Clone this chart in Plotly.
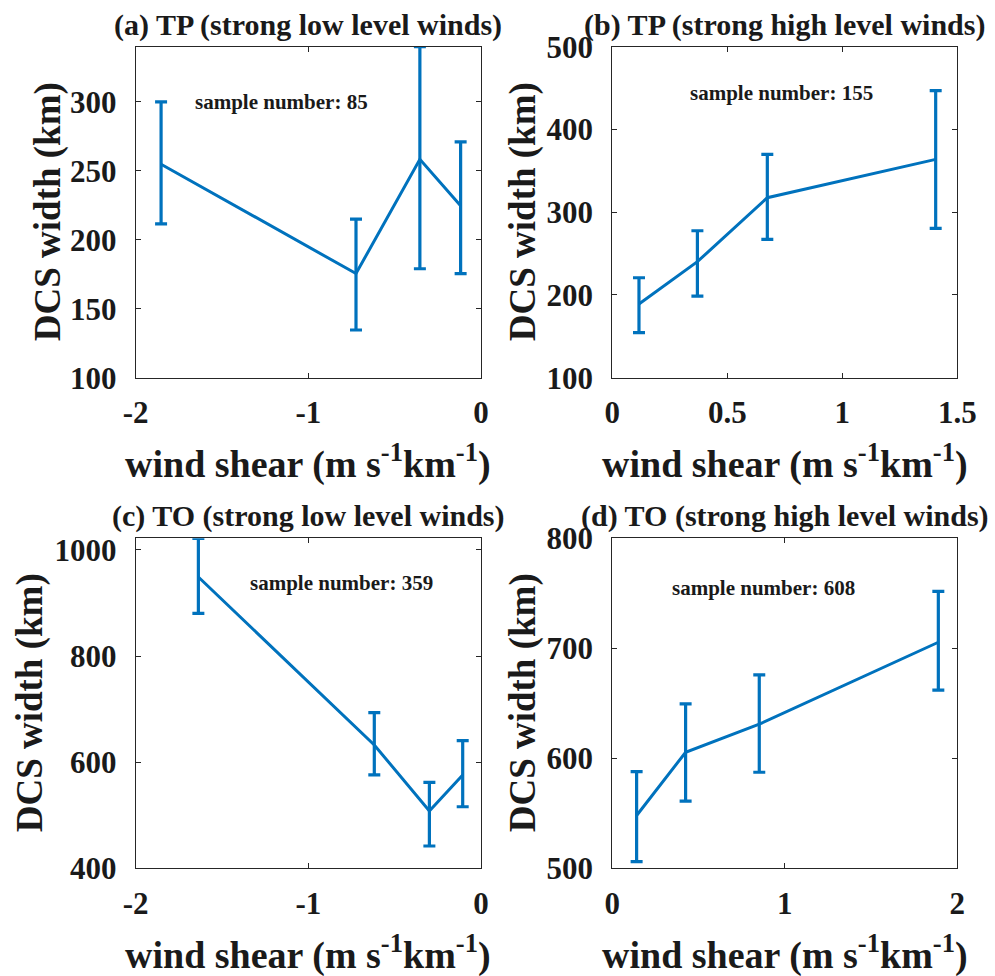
import plotly.graph_objects as go

# Panel (a): TP, strong low level winds
shear_a = [-1.853, -0.724, -0.354, -0.118]
width_a = [254.8, 175.5, 258.4, 224.7]
err_up_a = [45.2, 39.5, 81.6, 46.3]
err_dn_a = [43.3, 40.9, 79.4, 49.2]

# Panel (b): TP, strong high level winds
shear_b = [0.116, 0.370, 0.674, 1.406]
width_b = [189.0, 240.2, 317.5, 363.8]
err_up_b = [31.8, 37.4, 52.4, 83.0]
err_dn_b = [34.6, 41.5, 50.3, 83.3]

# Panel (c): TO, strong low level winds
shear_c = [-1.637, -0.618, -0.299, -0.106]
width_c = [949.0, 632.5, 508.0, 576.0]
err_up_c = [73.0, 60.9, 54.0, 64.6]
err_dn_c = [68.4, 56.5, 66.0, 60.0]

# Panel (d): TO, strong high level winds
shear_d = [0.141, 0.425, 0.852, 1.890]
width_d = [548.0, 605.5, 631.0, 705.5]
err_up_d = [39.9, 43.9, 44.8, 46.3]
err_dn_d = [42.0, 44.5, 43.7, 43.5]

panel_titles = ["(a) TP (strong low level winds)", "(b) TP (strong high level winds)",
                "(c) TO (strong low level winds)", "(d) TO (strong high level winds)"]
sample_labels = ["sample number: 85", "sample number: 155",
                 "sample number: 359", "sample number: 608"]

xticks_low = [-2, -1, 0]
xticks_low_text = ["-2", "-1", "0"]
xticks_b = [0, 0.5, 1, 1.5]
xticks_b_text = ["0", "0.5", "1", "1.5"]
xticks_d = [0, 1, 2]
xticks_d_text = ["0", "1", "2"]
yticks_a = [100, 150, 200, 250, 300]
yticks_b = [100, 200, 300, 400, 500]
yticks_c = [400, 600, 800, 1000]
yticks_d = [500, 600, 700, 800]

W, H = 995, 976
BLUE = "#0072BD"
FONT = "Liberation Serif"
INK = "#1a1a1a"

panels = [
    dict(x=shear_a, y=width_a, up=err_up_a, dn=err_dn_a, xr=[-2, 0], yr=[100, 340],
         xt=xticks_low, xtt=xticks_low_text, yt=yticks_a,
         box=(135.7, 481.0, 46.7, 377.7), note=(-1.668, 300), ytx=48),
    dict(x=shear_b, y=width_b, up=err_up_b, dn=err_dn_b, xr=[0, 1.5], yr=[100, 500],
         xt=xticks_b, xtt=xticks_b_text, yt=yticks_b,
         box=(612.3, 957.3, 46.7, 377.7), note=(0.33, 444), ytx=523),
    dict(x=shear_c, y=width_c, up=err_up_c, dn=err_dn_c, xr=[-2, 0], yr=[400, 1022],
         xt=xticks_low, xtt=xticks_low_text, yt=yticks_c,
         box=(135.7, 481.0, 538.3, 868.3), note=(-1.347, 937), ytx=30),
    dict(x=shear_d, y=width_d, up=err_up_d, dn=err_dn_d, xr=[0, 2], yr=[500, 800],
         xt=xticks_d, xtt=xticks_d_text, yt=yticks_d,
         box=(612.3, 957.3, 538.3, 868.3), note=(0.334, 755), ytx=523),
]

fig = go.Figure()
annotations = []
axes = {}
for i, p in enumerate(panels):
    n = i + 1
    sfx = "" if n == 1 else str(n)
    xa, ya = "x" + sfx, "y" + sfx
    x0, x1, y0, y1 = p["box"]
    fig.add_trace(go.Scatter(
        x=p["x"], y=p["y"], xaxis=xa, yaxis=ya, mode="lines",
        line=dict(color=BLUE, width=3),
        error_y=dict(type="data", symmetric=False, array=p["up"], arrayminus=p["dn"],
                     color=BLUE, thickness=3.2, width=6),
        showlegend=False, hoverinfo="x+y"))
    axis_common = dict(showgrid=False, zeroline=False, showline=True, linecolor="#262626",
                       linewidth=1, mirror="ticks", ticks="inside", ticklen=5,
                       tickcolor="#262626", automargin=False,
                       tickfont=dict(family=FONT, size=31, color=INK, weight="bold"))
    axes["xaxis" + sfx] = dict(
        axis_common, domain=[x0 / W, x1 / W], range=p["xr"], anchor=ya,
        tickmode="array", tickvals=p["xt"], ticktext=p["xtt"],
        ticklabelstandoff=7)
    axes["yaxis" + sfx] = dict(
        axis_common, domain=[1 - y1 / H, 1 - y0 / H], range=p["yr"], anchor=xa,
        tickmode="array", tickvals=p["yt"], ticktext=[str(v) for v in p["yt"]],
        ticklabelstandoff=12)
    cx = (x0 + x1) / 2
    annotations.append(dict(text=f"<b>{panel_titles[i]}</b>", x=cx / W, y=1 - (y0 - 22) / H,
                            xref="paper", yref="paper", showarrow=False,
                            xanchor="center", yanchor="middle",
                            font=dict(family=FONT, size=30, color=INK)))
    annotations.append(dict(text="<b>wind shear (m s<sup>-1</sup>km<sup>-1</sup>)</b>",
                            x=cx / W, y=1 - (y1 + 84) / H,
                            xref="paper", yref="paper", showarrow=False,
                            xanchor="center", yanchor="middle",
                            font=dict(family=FONT, size=38, color=INK)))
    annotations.append(dict(text="<b>DCS width (km)</b>", textangle=-90,
                            x=p["ytx"] / W, y=1 - ((y0 + y1) / 2) / H,
                            xref="paper", yref="paper", showarrow=False,
                            xanchor="center", yanchor="middle",
                            font=dict(family=FONT, size=37, color=INK)))
    annotations.append(dict(text=f"<b>{sample_labels[i]}</b>", x=p["note"][0], y=p["note"][1],
                            xref=xa, yref=ya, showarrow=False,
                            xanchor="left", yanchor="middle",
                            font=dict(family=FONT, size=21, color=INK)))

fig.update_layout(width=W, height=H, margin=dict(l=0, r=0, t=0, b=0),
                  font=dict(family=FONT, color=INK),
                  paper_bgcolor="white", plot_bgcolor="white",
                  annotations=annotations, **axes)

fig.write_html("out.html")
